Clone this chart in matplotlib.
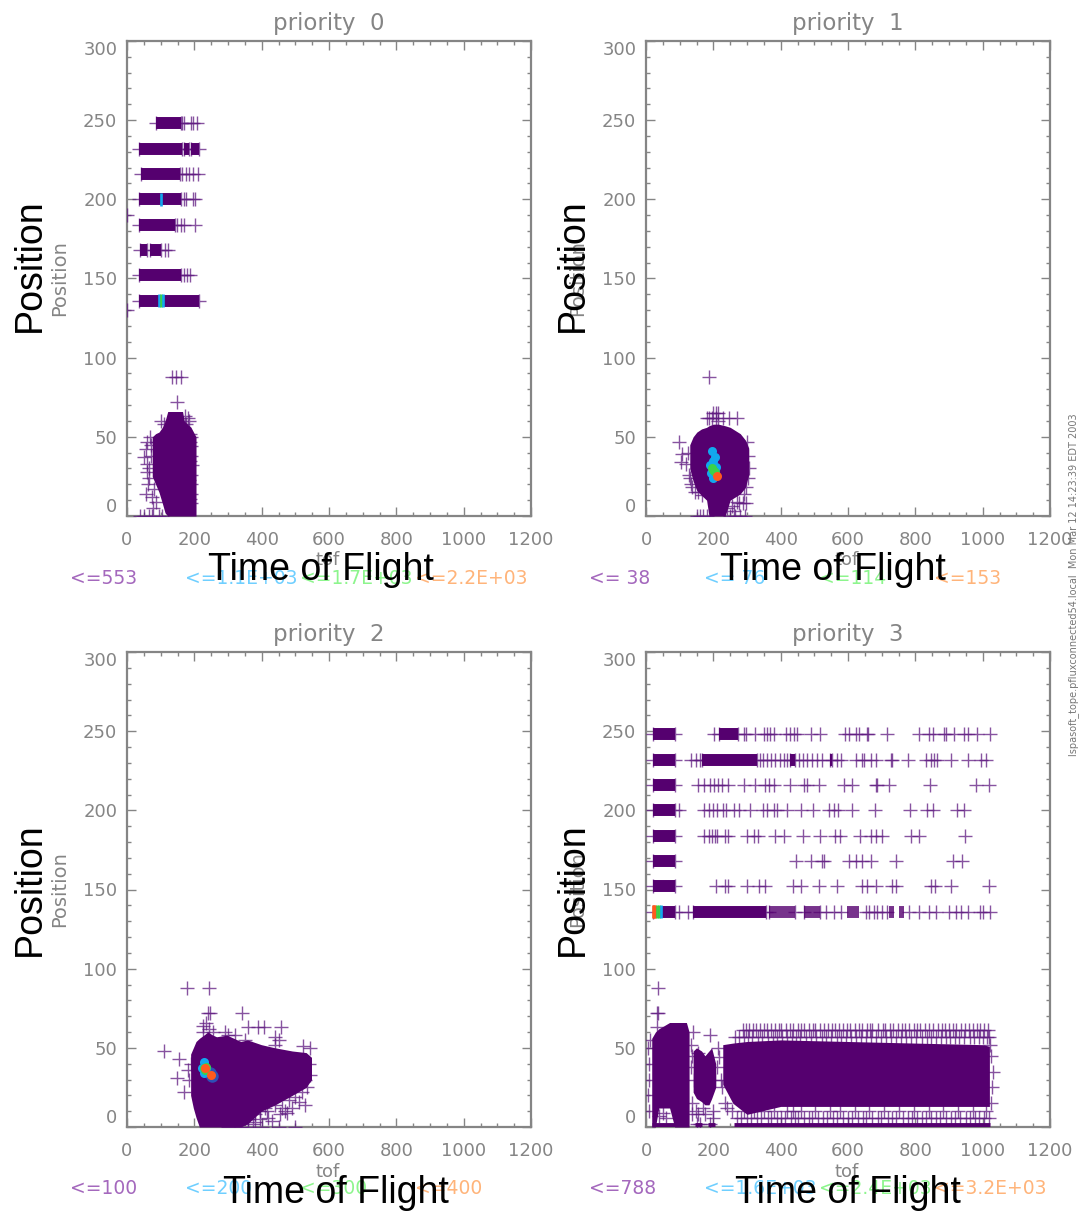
import numpy as np
import matplotlib
matplotlib.use('Agg')
import matplotlib.pyplot as plt
from matplotlib.ticker import MultipleLocator

W, H = 1081, 1212
GRAY = '#858585'
DARK = '#55006f'
CROSS = '#5f1a80'
LEVEL_COLORS = ['#5f1a80', '#12a8ee', '#3ad24a', '#ff5a1e']
LABEL_COLORS = ['#a468bd', '#6fcfff', '#8df58d', '#ffb47a']

row_pos = [136, 152, 168, 184, 200, 216, 232, 248]

# priority 0
p0_labels = ['<=553', '<=1.1E+03', '<=1.7E+03', '<=2.2E+03']
p0_levels = [553, 1100, 1700, 2200]
p0_blob_x = [75, 85, 95, 105, 113, 121, 165, 170, 180, 190, 205]
p0_blob_lo = [25, 20, 15, 8, 2, 0, 0, 0, 0, 0, 0]
p0_blob_hi = [50, 52, 53, 56, 60, 66, 66, 60, 58, 56, 50]
p0_dense = [[(36, 215)], [(36, 159)], [(39, 60), (68, 102)], [(36, 143)],
            [(36, 161)], [(41, 156)], [(36, 164), (169, 184), (189, 215)], [(87, 159)]]
p0_cross = [[], [169, 179, 186], [113, 123], [148, 159, 169, 203],
            [169, 176, 195, 202], [164, 174, 184, 195, 210], [], [164, 169, 189, 197, 207]]
p0_extra_x = [133, 145, 159, 148, 172, 180, 176, 185, 188, 110, 100,
              190, 191, 189, 192, 190, 191, 189, 190, 186, 187, 185, 186,
              60, 55, 50, 60, 58, 66, 62, 55, 85, 75, 70, 65, 72, 68, 80, 78, 88,
              40, 50, 65, 75, 95, 105, 0, 0]
p0_extra_y = [88, 88, 88, 72, 63, 62, 58, 60, 52, 58, 60,
              50, 44, 38, 32, 26, 20, 14, 8, 47, 35, 23, 11,
              47, 42, 37, 33, 28, 24, 20, 14, 9, 12, 38, 30, 45, 50, 17, 5, 47,
              0, 0, 0, 0, 0, 0, 190, 130]
p0_stripe_x = [100, 94, 100, 107]
p0_stripe_y = [200, 136, 136, 136]
p0_stripe_c = [1000, 1000, 1600, 1000]

# priority 1
p1_labels = ['<= 38', '<= 76', '<=114', '<=153']
p1_levels = [38, 76, 114, 153]
p1_blob_x = [130, 140, 151, 165, 180, 187, 200, 215, 235, 250, 265, 280, 295, 305]
p1_blob_lo = [30, 22, 16, 13, 10, 0, 0, 0, 0, 10, 12, 14, 18, 26]
p1_blob_hi = [45, 50, 53, 55, 56, 57, 58, 58, 57, 56, 54, 52, 48, 43]
p1_extra_x = [187, 98, 108, 103, 130, 155, 165, 288, 298, 180, 187, 197, 207, 215, 228, 248, 269, 200, 215, 208,
              150, 160, 170, 180, 250, 265, 280, 295, 275, 255, 262, 300, 303, 305, 302, 298, 290, 125, 120, 128, 135,
              145, 138, 270, 240]
p1_extra_y = [88, 47, 39, 34, 24, 15, 13, 8, 8, 62, 62, 62, 62, 60, 62, 62, 62, 65, 65, 65,
              0, 0, 0, 0, 0, 0, 0, 0, 8, 6, 3, 47, 38, 30, 24, 18, 14, 40, 33, 26, 20,
              15, 18, 9, 5]
p1_hot_x = [197, 205, 190, 200, 208, 192, 200, 195, 205, 212, 200]
p1_hot_y = [41, 37, 32, 35, 31, 27, 24, 30, 28, 25, 29]
p1_hot_c = [60, 60, 60, 60, 60, 60, 60, 100, 100, 130, 100]

# priority 2
p2_labels = ['<=100', '<=200', '<=300', '<=400']
p2_levels = [100, 200, 300, 400]
p2_blob_x = [189, 197, 205, 215, 228, 240, 255, 266, 297, 338, 358, 399, 440, 491, 532, 548]
p2_blob_lo = [20, 12, 6, 0, 0, 0, 0, 0, 0, 0, 2, 10, 14, 20, 25, 30]
p2_blob_hi = [46, 50, 54, 56, 58, 60, 58, 57, 58, 54, 55, 52, 50, 48, 47, 44]
p2_extra_x = [111, 179, 244, 241, 246, 343, 358, 389, 408, 456, 154, 148, 169, 440, 522, 543,
              350, 370, 395, 420, 440, 460, 480, 500, 520, 535, 450, 470, 490, 510, 530,
              430, 455, 475, 500, 300, 340, 360, 400, 450, 540, 545, 530,
              225, 235, 245, 225, 255, 290, 300, 320, 350, 440, 450, 185, 180, 190,
              380, 410, 425, 445, 465, 485, 505, 525, 380, 395, 415, 360, 375]
p2_extra_y = [48, 88, 88, 72, 72, 72, 63, 63, 63, 63, 43, 31, 22, 57, 51, 50,
              6, 9, 10, 6, 14, 12, 17, 19, 22, 25, 20, 10, 12, 16, 14,
              4, 8, 9, 0, 0, 0, 0, 0, 0, 40, 33, 30,
              64, 66, 62, 60, 60, 60, 58, 58, 55, 52, 55, 30, 36, 40,
              8, 12, 18, 24, 22, 26, 28, 30, 3, 5, 10, 5, 2]
p2_halo_x = [248, 252]
p2_halo_y = [34, 32]
p2_hot_x = [224, 236, 230, 230, 228, 234, 232, 231, 250]
p2_hot_y = [37, 37, 41, 34, 37, 38, 36, 37, 33]
p2_hot_c = [150, 150, 150, 150, 250, 250, 250, 350, 350]

# priority 3
p3_labels = ['<=788', '<=1.6E+03', '<=2.4E+03', '<=3.2E+03']
p3_levels = [788, 1600, 2400, 3200]
p3_blob_a_x = [17, 28, 38, 70, 85, 120, 128]
p3_blob_a_lo = [0, 0, 12, 12, 0, 0, 0]
p3_blob_a_hi = [56, 60, 62, 66, 66, 66, 60]
p3_blob_b_x = [140, 150, 165, 175, 187, 195, 207]
p3_blob_b_lo = [22, 18, 16, 14, 14, 18, 25]
p3_blob_b_hi = [48, 50, 48, 45, 48, 50, 40]
p3_blob_c_x = [228, 258, 300, 400, 600, 800, 1000, 1020]
p3_blob_c_lo = [27, 15, 8, 13, 13, 13, 13, 13]
p3_blob_c_hi = [52, 53, 54, 55, 54, 53, 52, 51]
p3_zero_x = [(17, 125), (145, 165), (185, 205), (262, 1022)]
p3_top_band = [288, 297, 306, 318, 327, 339, 350, 358, 371, 383, 394, 402, 416, 428, 437, 450,
               461, 470, 483, 495, 503, 517, 530, 541, 552, 561, 574, 586, 598, 606, 621, 633,
               641, 655, 664, 672, 690, 703, 711, 726, 735, 748, 760, 768, 781, 795, 806, 815,
               830, 842, 851, 866, 878, 887, 899, 911, 920, 935, 947, 958, 970, 982, 993, 1005, 1016]
p3_top_band2 = [265, 276, 292, 303, 314, 332, 345, 361, 376, 388, 405, 419, 433, 445, 458, 474,
                489, 506, 522, 535, 549, 566, 579, 593, 610, 625, 638, 652, 668, 683, 697, 714,
                729, 744, 757, 772, 788, 801, 819, 835, 847, 860, 875, 890, 904, 917, 930, 944,
                961, 975, 988, 1001, 1012, 1020]
p3_low_band = [270, 283, 300, 311, 330, 342, 363, 372, 388, 401, 412, 431, 444, 452, 470, 485,
               493, 512, 527, 538, 556, 567, 585, 600, 611, 630, 644, 652, 672, 688, 699, 718,
               731, 742, 763, 777, 789, 804, 820, 833, 848, 862, 873, 892, 905, 919, 934, 950,
               961, 978, 990, 1003, 1018]
p3_low_band2 = [255, 292, 320, 351, 379, 420, 438, 461, 503, 546, 576, 622, 661, 708, 752, 796,
                841, 881, 927, 970, 1010]
p3_extra_x = [37, 34, 37, 34, 155, 190, 155, 175, 150, 160, 190, 6, 8, 10, 7, 9, 12, 140, 138, 142, 137, 40, 50, 60,
              215, 218, 212, 222, 235, 225, 240, 1025, 1030, 1028, 1026, 1022, 135, 133, 136, 200, 198, 205, 168, 148]
p3_extra_y = [88, 72, 72, 63, 47, 58, 8, 8, 2, 2, 2, 50, 40, 30, 20, 10, 55, 60, 45, 30, 15, 7, 9, 6,
              50, 44, 38, 30, 15, 25, 12, 45, 35, 25, 15, 52, 52, 38, 8, 10, 6, 30, 12, 10]
p3_dense = [[(22, 86), (141, 355)],
            [(22, 86)], [(22, 86)], [(22, 86)], [(22, 86)], [(22, 86)],
            [(22, 86), (166, 330), (429, 444), (546, 553)], [(22, 86), (218, 272)]]
p3_semi_136 = [(364, 444), (469, 518), (598, 633), (722, 737), (752, 767)]
p3_cross = [[99, 125, 364, 444, 469, 518, 536, 558, 578, 652, 662, 677, 687, 702, 717, 781, 811, 841, 861, 901, 921, 935, 955, 991, 1001, 1023],
            [209, 235, 245, 300, 335, 352, 437, 459, 515, 566, 642, 657, 682, 732, 742, 846, 858, 906, 1020],
            [447, 489, 523, 530, 603, 623, 642, 667, 742, 911, 940],
            [171, 186, 196, 206, 212, 235, 245, 300, 322, 332, 384, 409, 465, 518, 560, 576, 635, 667, 682, 702, 786, 811, 947],
            [99, 173, 186, 199, 211, 230, 238, 260, 275, 310, 348, 358, 381, 389, 419, 459, 497, 543, 558, 570, 613, 679, 784, 834, 851, 923, 945],
            [153, 171, 191, 201, 215, 225, 245, 292, 325, 352, 364, 379, 427, 469, 479, 513, 588, 613, 682, 687, 722, 844, 980, 1020],
            [133, 149, 161, 340, 349, 359, 371, 384, 397, 409, 419, 454, 467, 479, 494, 508, 523, 568, 578, 623, 642, 647, 667, 682, 727, 732, 779, 831, 846, 854, 864, 906, 955, 995, 1010],
            [203, 290, 298, 325, 350, 359, 369, 381, 417, 429, 439, 449, 489, 518, 590, 603, 623, 633, 655, 659, 717, 811, 841, 851, 884, 891, 916, 945, 957, 983, 1023]]
p3_stripe_x = [22, 25, 28, 34, 38, 44]
p3_stripe_y = [136, 136, 136, 136, 136, 136]
p3_stripe_c = [3000, 3100, 2900, 2000, 2000, 1200]

xticks = np.arange(0, 1201, 200)
yticks = np.arange(0, 301, 50)


def make_axes(fig, left, top, title):
    ax = fig.add_axes([left / W, 1 - (top + 475) / H, 404 / W, 475 / H])
    ax.set_xlim(0, 1200)
    ax.set_ylim(0, 300)
    ax.set_xticks(xticks)
    ax.set_yticks(yticks)
    ax.xaxis.set_minor_locator(MultipleLocator(50))
    ax.yaxis.set_minor_locator(MultipleLocator(10))
    ax.tick_params(which='major', direction='in', top=True, right=True, length=6.5, width=1,
                   color=GRAY, labelcolor=GRAY, labelsize=13)
    ax.tick_params(which='minor', direction='in', top=True, right=True, length=3, width=1, color=GRAY)
    ax.tick_params(axis='x', pad=11)
    ax.tick_params(axis='y', pad=7)
    for s in ax.spines.values():
        s.set_color(GRAY)
        s.set_linewidth(1.6)
    labels = ax.get_yticklabels()
    labels[0].set_verticalalignment('bottom')
    labels[-1].set_verticalalignment('top')
    ax.set_title(title, color=GRAY, fontsize=16.5, pad=8)
    return ax


def crosses(ax, x, y, color=CROSS, lw=1.0, alpha=0.75, zorder=3):
    ax.plot(x, y, linestyle='none', marker='+', markersize=10, markeredgewidth=lw,
            color=color, alpha=alpha, zorder=zorder)


def blob(ax, x, lo, hi):
    ax.fill_between(x, lo, hi, color=DARK, linewidth=0, zorder=4)


def rows(ax, dense, cross):
    for pos, ranges, pts in zip(row_pos, dense, cross):
        for a, b in ranges:
            ax.hlines(pos, a, b, color=DARK, linewidth=8.6, zorder=4)
            crosses(ax, [a, b], [pos, pos])
        crosses(ax, pts, [pos] * len(pts))


def hot(ax, x, y, counts, levels):
    idx = np.searchsorted(levels, counts)
    for i in range(1, 4):
        pick = idx == i
        ax.plot(np.array(x)[pick], np.array(y)[pick], linestyle='none', marker='o', markersize=6.5,
                markeredgewidth=0, color=LEVEL_COLORS[i], zorder=5 + i)


def stripes(ax, x, y, counts, levels):
    idx = np.searchsorted(levels, counts)
    for a, b, i in zip(x, y, idx):
        ax.vlines(a, b - 4.2, b + 4.2, color=LEVEL_COLORS[i], linewidth=1.9, zorder=6)


def ftext(fig, x, y, s, **kw):
    fig.text(x / W, 1 - y / H, s, **kw)


fig = plt.figure(figsize=(W / 100, H / 100), dpi=100, facecolor='white')

ax0 = make_axes(fig, 127, 41, 'priority  0')
ax1 = make_axes(fig, 646, 41, 'priority  1')
ax2 = make_axes(fig, 127, 652, 'priority  2')
ax3 = make_axes(fig, 646, 652, 'priority  3')

blob(ax0, p0_blob_x, p0_blob_lo, p0_blob_hi)
rows(ax0, p0_dense, p0_cross)
crosses(ax0, p0_extra_x, p0_extra_y)
stripes(ax0, p0_stripe_x, p0_stripe_y, p0_stripe_c, p0_levels)

blob(ax1, p1_blob_x, p1_blob_lo, p1_blob_hi)
crosses(ax1, p1_extra_x, p1_extra_y)
hot(ax1, p1_hot_x, p1_hot_y, p1_hot_c, p1_levels)

blob(ax2, p2_blob_x, p2_blob_lo, p2_blob_hi)
crosses(ax2, p2_extra_x, p2_extra_y)
ax2.plot(p2_halo_x, p2_halo_y, linestyle='none', marker='o', markersize=9, markeredgewidth=0,
         color='#2f4fb5', zorder=5)
hot(ax2, p2_hot_x, p2_hot_y, p2_hot_c, p2_levels)

blob(ax3, p3_blob_a_x, p3_blob_a_lo, p3_blob_a_hi)
blob(ax3, p3_blob_b_x, p3_blob_b_lo, p3_blob_b_hi)
blob(ax3, p3_blob_c_x, p3_blob_c_lo, p3_blob_c_hi)
for a, b in p3_zero_x:
    ax3.hlines(1.5, a, b, color=DARK, linewidth=3.5, zorder=4)
crosses(ax3, p3_top_band, [61] * len(p3_top_band))
crosses(ax3, p3_top_band2, [57] * len(p3_top_band2))
crosses(ax3, p3_low_band, [6] * len(p3_low_band))
crosses(ax3, p3_low_band2, [10] * len(p3_low_band2))
crosses(ax3, p3_extra_x, p3_extra_y)
rows(ax3, p3_dense, p3_cross)
for a, b in p3_semi_136:
    ax3.hlines(136, a, b, color=DARK, linewidth=8.6, alpha=0.8, zorder=4)
stripes(ax3, p3_stripe_x, p3_stripe_y, p3_stripe_c, p3_levels)

# small gray axis names from the original plot
for x, y in [(60, 278), (578, 278), (60, 889), (578, 889)]:
    ftext(fig, x, y, 'Position', color=GRAY, fontsize=14, rotation=90, ha='center', va='center')
for x, y in [(328, 560), (847, 560), (328, 1172), (847, 1172)]:
    ftext(fig, x, y, 'tof', color=GRAY, fontsize=13, ha='center', va='center')

# threshold labels under each panel
for labels, xs, y in [(p0_labels, [70, 185, 300, 415], 578), (p1_labels, [589, 704, 819, 934], 578),
                      (p2_labels, [70, 185, 300, 415], 1189), (p3_labels, [589, 704, 819, 934], 1189)]:
    for s, x, c in zip(labels, xs, LABEL_COLORS):
        ftext(fig, x, y, s, color=c, fontsize=13.5, ha='left', va='center')

ftext(fig, 1074, 585, 'lspasoft_tope.pfluxconnected54.local  Mon Mar 12 14:23:39 EDT 2003', color='#777777',
      fontsize=7, rotation=90, ha='center', va='center')

# big black labels pasted over the plots
for x, y in [(30, 265), (573, 265), (30, 889), (573, 889)]:
    ftext(fig, x, y, 'Position', color='black', fontsize=27, family='Liberation Sans', rotation=90,
          ha='center', va='center', zorder=20)
for x, y in [(321, 570), (833, 570), (336, 1193), (848, 1193)]:
    ftext(fig, x, y, 'Time of Flight', color='black', fontsize=27, family='Liberation Sans',
          ha='center', va='center', zorder=20)

fig.savefig('out.png', dpi=100)
